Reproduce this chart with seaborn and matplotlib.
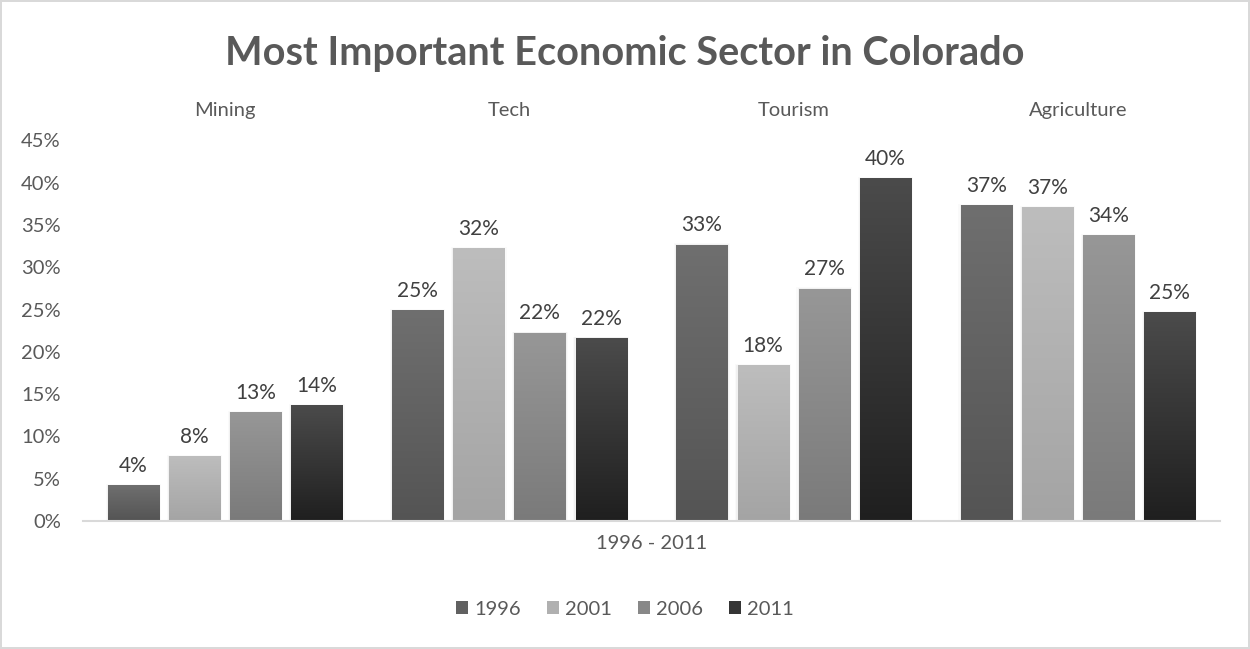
import numpy as np
import pandas as pd
import matplotlib
matplotlib.use("Agg")
import matplotlib.pyplot as plt
from matplotlib.patches import Rectangle
from matplotlib.colors import LinearSegmentedColormap
import seaborn as sns

sectors = ["Mining", "Tech", "Tourism", "Agriculture"]
years = ["1996", "2001", "2006", "2011"]
share_1996 = [4.2, 24.9, 32.6, 37.3]
share_2001 = [7.6, 32.2, 18.4, 37.0]
share_2006 = [12.8, 22.2, 27.4, 33.7]
share_2011 = [13.6, 21.6, 40.4, 24.6]
y_ticks = [0, 5, 10, 15, 20, 25, 30, 35, 40, 45]

# top / bottom shade of each year's gradient fill
grad_top = {"1996": "#6f6f6f", "2001": "#bdbdbd", "2006": "#979797", "2011": "#4b4b4b"}
grad_bot = {"1996": "#545454", "2001": "#a4a4a4", "2006": "#7a7a7a", "2011": "#1f1f1f"}
mid = {k: "#" + "".join(f"{(int(grad_top[k][i:i+2],16)+int(grad_bot[k][i:i+2],16))//2:02x}" for i in (1, 3, 5)) for k in years}

df = pd.DataFrame({
    "sector": sectors * 4,
    "year": [y for y in years for _ in sectors],
    "share": share_1996 + share_2001 + share_2006 + share_2011,
})

sns.set_theme(style="white")
plt.rcParams["font.family"] = ["Lato", "DejaVu Sans"]
text_color = "#595959"

fig = plt.figure(figsize=(12.5, 6.49), dpi=100)
fig.patch.set_facecolor("white")
fig.patch.set_edgecolor("#d9d9d9")
fig.patch.set_linewidth(1.5)
ax = fig.add_axes([0.0664, 0.197, 0.9096, 0.587])

sns.barplot(data=df, x="sector", y="share", hue="year", order=sectors,
            hue_order=years, palette=mid, width=0.86, gap=0.165,
            legend=False, ax=ax, saturation=1, linewidth=0, edgecolor="none")

ax.set_yticks(y_ticks)
ax.set_yticklabels([f"{t}%" for t in y_ticks])

for year, cont in zip(years, ax.containers):
    cmap = LinearSegmentedColormap.from_list(year, [grad_bot[year], grad_top[year]])
    for bar in cont:
        x, w, h = bar.get_x(), bar.get_width(), bar.get_height()
        # faint shadow behind the bar
        for k, a in enumerate([0.035, 0.02]):
            d = 0.004 * (k + 1)
            ax.add_patch(Rectangle((x - d, 0), w + 2 * d, h + 0.1 * (k + 1),
                                   facecolor="black", alpha=a, lw=0, zorder=1.5))
        bar.set_edgecolor("none")
        bar.set_linewidth(0)
        bar.set_zorder(2)
        grad = np.linspace(0, 1, 256).reshape(-1, 1)
        ax.imshow(grad, cmap=cmap, origin="lower", aspect="auto",
                  extent=[x, x + w, 0, h], zorder=2.1, interpolation="bilinear")
    ax.bar_label(cont, labels=[f"{v:.0f}%" for v in cont.datavalues],
                 padding=7, fontsize=15, color="#404040")

ax.set_xlim(-0.5, 3.5)
ax.set_ylim(0, 45)

ax.xaxis.tick_top()
ax.tick_params(axis="x", length=0, pad=15, labelsize=14.5, labelcolor=text_color)
ax.tick_params(axis="y", length=0, pad=16, labelsize=14.5, labelcolor=text_color)
ax.set_xlabel("1996 - 2011", fontsize=14.5, color=text_color, labelpad=10)
ax.xaxis.set_label_position("bottom")
ax.set_ylabel("")
for s in ["top", "right", "left"]:
    ax.spines[s].set_visible(False)
ax.spines["bottom"].set_color("#d9d9d9")
ax.spines["bottom"].set_linewidth(1.5)

fig.text(0.5, 0.917, "Most Important Economic Sector in Colorado",
         ha="center", va="center", fontsize=28.5, fontweight="bold", color=text_color)

handles = [Rectangle((0, 0), 1, 1, facecolor=mid[y], lw=0) for y in years]
fig.legend(handles, years, loc="center", bbox_to_anchor=(0.5, 0.061), ncol=4,
           frameon=False, fontsize=14.5, handlelength=0.6, handleheight=0.6,
           handletextpad=0.3, columnspacing=1.3, labelcolor=text_color)

fig.savefig("out.png", dpi=100, facecolor=fig.get_facecolor(), edgecolor=fig.get_edgecolor())
